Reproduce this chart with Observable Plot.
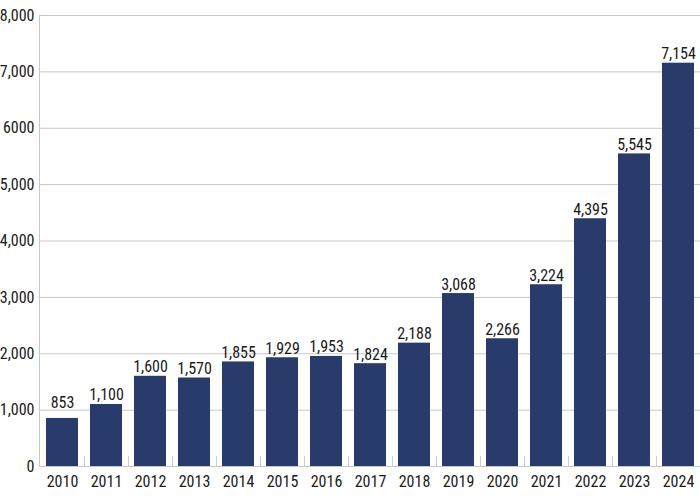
<!DOCTYPE html>
<html>
<head>
<meta charset="utf-8">
<script src="https://cdn.jsdelivr.net/npm/d3@7"></script>
<script src="https://cdn.jsdelivr.net/npm/@observablehq/plot@0.6"></script>
<style>
  html, body { margin: 0; padding: 0; background: #fff; }
  #chart svg { display: block; }
</style>
</head>
<body>
<div id="chart"></div>
<script>
const years = ["2010","2011","2012","2013","2014","2015","2016","2017","2018","2019","2020","2021","2022","2023","2024"];
const values = [853, 1100, 1600, 1570, 1855, 1929, 1953, 1824, 2188, 3068, 2266, 3224, 4395, 5545, 7154];
const valueLabels = ["853","1,100","1,600","1,570","1,855","1,929","1,953","1,824","2,188","3,068","2,266","3,224","4,395","5,545","7,154"];
const yTicks = [0, 1000, 2000, 3000, 4000, 5000, 6000, 7000, 8000];
const yTickLabels = ["0","1,000","2,000","3,000","4,000","5,000","6000","7,000","8,000"];

const data = years.map((y, i) => ({year: y, value: values[i], label: valueLabels[i]}));
const fontFam = "'Roboto Condensed', 'Liberation Sans Narrow', 'DejaVu Sans Condensed', 'Arial Narrow', sans-serif";

const W = 700, H = 503, ML = 39, MR = 0;
const pIn = 0.28, pOut = 0.13;
const step = (W - ML - MR) / (years.length - pIn + 2 * pOut);

const chart = Plot.plot({
  width: W,
  height: H,
  marginLeft: ML,
  marginRight: MR,
  marginTop: 15,
  marginBottom: 37,
  style: {fontFamily: fontFam, fontSize: "16px", color: "#1a1a1a", background: "#fff", fontStretch: "condensed"},
  x: {domain: years, paddingInner: pIn, paddingOuter: pOut, label: null},
  y: {domain: [0, 8000], label: null},
  marks: [
    Plot.ruleY(yTicks, {stroke: "#c8c8c8", strokeWidth: 1}),
    Plot.axisY({ticks: yTicks, tickFormat: d => yTickLabels[yTicks.indexOf(d)], tickSize: 0, tickPadding: 5, label: null, fontSize: 16}),
    Plot.axisX({tickSize: 0, tickPadding: 9, label: null, fontSize: 16}),
    Plot.ruleX(years.slice(1), {x: d => d, dx: -step / 2, y1: 0, y2: 180, stroke: "#c8c8c8"}),
    Plot.barY(data, {x: "year", y: "value", fill: "#283b6b"}),
    Plot.text(data.filter(d => d.year !== "2010"), {x: "year", y: "value", text: "label", textAnchor: "middle", lineAnchor: "bottom", dy: -4, fontSize: 16, fill: "#1a1a1a"}),
    Plot.text(data.filter(d => d.year === "2010"), {x: "year", y: "value", text: "label", textAnchor: "middle", lineAnchor: "bottom", dy: -10, fontSize: 16, fill: "#1a1a1a"})
  ]
});

document.getElementById("chart").appendChild(chart);

// left axis line and baseline, placed with the chart's own scales
const xs = chart.scale("x"), ys = chart.scale("y");
const svg = d3.select(chart);
svg.append("line")
  .attr("x1", xs.range[0] + 0.5).attr("x2", xs.range[0] + 0.5)
  .attr("y1", ys.range[0]).attr("y2", ys.range[1])
  .attr("stroke", "#c8c8c8");
svg.append("line")
  .attr("x1", xs.range[0]).attr("x2", xs.range[1])
  .attr("y1", ys.range[0] + 0.5).attr("y2", ys.range[0] + 0.5)
  .attr("stroke", "#c8c8c8");
</script>
</body>
</html>
